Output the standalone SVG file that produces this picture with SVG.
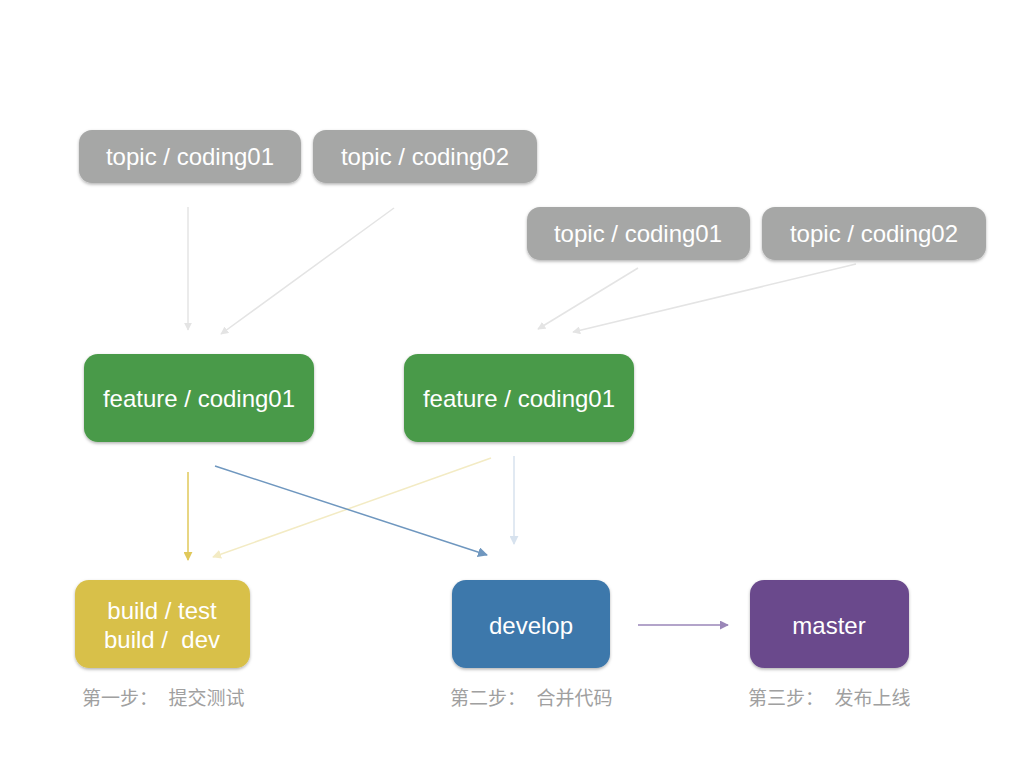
<svg xmlns="http://www.w3.org/2000/svg" width="1024" height="768" viewBox="0 0 1024 768">
<style>
.t{font-family:"Liberation Sans",Arial,sans-serif;font-size:24px;fill:#fff;text-anchor:middle}
.l{font-family:"Liberation Sans","Noto Sans CJK SC",sans-serif;font-size:19px;fill:#a0a0a0}
.c{fill:none;stroke-width:1.5}
</style>
<defs>
<filter id="sh" x="-10%" y="-10%" width="120%" height="130%">
<feDropShadow dx="0" dy="1.5" stdDeviation="1.5" flood-color="#000" flood-opacity="0.3"/>
</filter>
<marker id="mg" viewBox="0 0 10 10" refX="9" refY="5" markerWidth="8" markerHeight="8" orient="auto" markerUnits="userSpaceOnUse"><path d="M0,0L10,5L0,10z" fill="#e4e4e4"/></marker>
<marker id="my" viewBox="0 0 10 10" refX="9" refY="5" markerWidth="9" markerHeight="9" orient="auto" markerUnits="userSpaceOnUse"><path d="M0,0L10,5L0,10z" fill="#e0c85a"/></marker>
<marker id="mly" viewBox="0 0 10 10" refX="9" refY="5" markerWidth="9" markerHeight="9" orient="auto" markerUnits="userSpaceOnUse"><path d="M0,0L10,5L0,10z" fill="#f3ebc4"/></marker>
<marker id="mb" viewBox="0 0 10 10" refX="9" refY="5" markerWidth="10" markerHeight="10" orient="auto" markerUnits="userSpaceOnUse"><path d="M0,0L10,5L0,10z" fill="#6f97bf"/></marker>
<marker id="mlb" viewBox="0 0 10 10" refX="9" refY="5" markerWidth="9" markerHeight="9" orient="auto" markerUnits="userSpaceOnUse"><path d="M0,0L10,5L0,10z" fill="#d7e2ee"/></marker>
<marker id="mp" viewBox="0 0 10 10" refX="9" refY="5" markerWidth="9" markerHeight="9" orient="auto" markerUnits="userSpaceOnUse"><path d="M0,0L10,5L0,10z" fill="#9a86b8"/></marker>
</defs>
<rect width="1024" height="768" fill="#fff"/>
<g id="connectors">
<line class="c" x1="188" y1="207" x2="188" y2="330" stroke="#e4e4e4" marker-end="url(#mg)"/>
<line class="c" x1="394" y1="208" x2="221" y2="334" stroke="#e4e4e4" marker-end="url(#mg)"/>
<line class="c" x1="638" y1="268" x2="538" y2="329" stroke="#e4e4e4" marker-end="url(#mg)"/>
<line class="c" x1="856" y1="264" x2="573" y2="332" stroke="#e4e4e4" marker-end="url(#mg)"/>
<line class="c" x1="188" y1="472" x2="188" y2="560" stroke="#e0c85a" marker-end="url(#my)"/>
<line class="c" x1="491" y1="458" x2="213" y2="557" stroke="#f3ebc4" marker-end="url(#mly)"/>
<line class="c" x1="215" y1="466" x2="487" y2="555" stroke="#6f97bf" marker-end="url(#mb)"/>
<line class="c" x1="514" y1="456" x2="514" y2="544" stroke="#d7e2ee" marker-end="url(#mlb)"/>
<line class="c" x1="638" y1="625" x2="728" y2="625" stroke="#9a86b8" marker-end="url(#mp)"/>
</g>
<g id="topic1a"><rect x="79" y="130" width="222" height="53" rx="13" fill="#a6a7a6" filter="url(#sh)"/><text class="t" x="190" y="165">topic / coding01</text></g>
<g id="topic2a"><rect x="313" y="130" width="224" height="53" rx="13" fill="#a6a7a6" filter="url(#sh)"/><text class="t" x="425" y="165">topic / coding02</text></g>
<g id="topic1b"><rect x="527" y="207" width="223" height="53" rx="13" fill="#a6a7a6" filter="url(#sh)"/><text class="t" x="638" y="242">topic / coding01</text></g>
<g id="topic2b"><rect x="762" y="207" width="224" height="53" rx="13" fill="#a6a7a6" filter="url(#sh)"/><text class="t" x="874" y="242">topic / coding02</text></g>
<g id="feature1"><rect x="84" y="354" width="230" height="88" rx="14" fill="#4a9a48" filter="url(#sh)"/><text class="t" x="199" y="407">feature / coding01</text></g>
<g id="feature2"><rect x="404" y="354" width="230" height="88" rx="14" fill="#4a9a48" filter="url(#sh)"/><text class="t" x="519" y="407">feature / coding01</text></g>
<g id="build"><rect x="75" y="580" width="175" height="88" rx="14" fill="#d8c04a" filter="url(#sh)"/><text class="t" x="162" y="619">build / test</text><text class="t" x="162" y="648" xml:space="preserve">build /  dev</text></g>
<g id="develop"><rect x="452" y="580" width="158" height="88" rx="14" fill="#3e78ab" filter="url(#sh)"/><text class="t" x="531" y="634">develop</text></g>
<g id="master"><rect x="750" y="580" width="159" height="88" rx="14" fill="#6a4a8c" filter="url(#sh)"/><text class="t" x="829" y="634">master</text></g>
<g id="labels">
<text class="l" x="82" y="705" xml:space="preserve">第一步：  提交测试</text>
<text class="l" x="450" y="705" xml:space="preserve">第二步：  合并代码</text>
<text class="l" x="748" y="705" xml:space="preserve">第三步：  发布上线</text>
</g>
</svg>
